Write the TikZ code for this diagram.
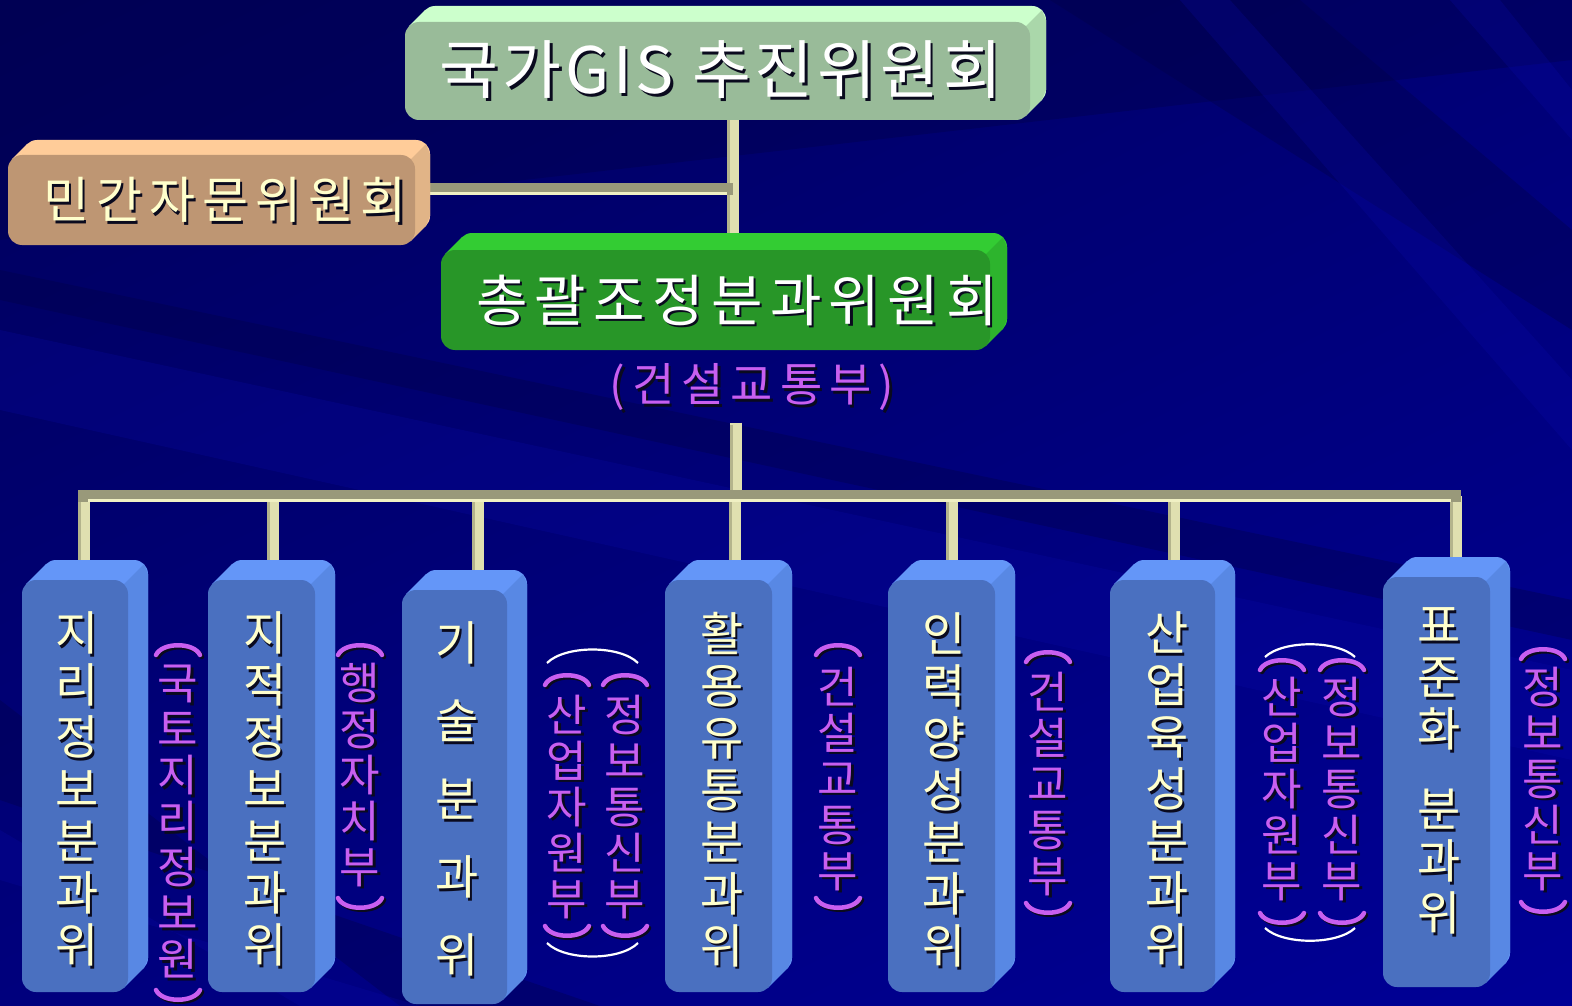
\documentclass[tikz,border=0pt]{standalone}
\usepackage{fontspec}
\setmainfont{Noto Sans CJK KR}
\usetikzlibrary{calc,shadings}
\pgfdeclarelayer{bgl}
\pgfdeclarelayer{conl}
\pgfdeclarelayer{extl}
\pgfsetlayers{bgl,conl,extl,main}
\definecolor{bgUL}{RGB}{0,0,92}
\definecolor{bgUR}{RGB}{0,0,118}
\definecolor{bgLL}{RGB}{0,0,125}
\definecolor{bgLR}{RGB}{0,0,150}
\definecolor{bandL}{RGB}{10,10,175}
\definecolor{bandD}{RGB}{0,0,70}
\definecolor{tFront}{RGB}{153,187,153}
\definecolor{tTop}{RGB}{204,255,204}
\definecolor{tSide}{RGB}{170,215,170}
\definecolor{oFront}{RGB}{190,150,115}
\definecolor{oTop}{RGB}{255,204,153}
\definecolor{oSide}{RGB}{225,180,135}
\definecolor{gFront}{RGB}{40,150,40}
\definecolor{gTop}{RGB}{51,204,51}
\definecolor{gSide}{RGB}{45,180,45}
\definecolor{bFront}{RGB}{74,112,192}
\definecolor{bTop}{RGB}{100,150,248}
\definecolor{bSide}{RGB}{88,136,228}
\definecolor{barDark}{RGB}{153,153,122}
\definecolor{barLight}{RGB}{240,240,195}
\definecolor{conLight}{RGB}{224,224,176}
\definecolor{conDark}{RGB}{180,180,140}
\definecolor{purp}{RGB}{200,95,240}
\definecolor{txtY}{RGB}{255,255,204}
\definecolor{shc}{RGB}{10,10,30}
\newcommand\threed[8]{%
 \pgfmathsetmacro\tdcx{(#2+#4)/2}%
 \pgfmathsetmacro\tdcy{(#3+#5)/2}%
 \pgfmathsetmacro\tdw{#4-#2}%
 \pgfmathsetmacro\tdh{#5-#3}%
 \pgfmathsetmacro\tdk{0.293*#7}%
 \node[fill=#8Front, rounded corners=#7pt, minimum width=\tdw pt, minimum height=\tdh pt, inner sep=0pt, outer sep=0pt] (#1) at (\tdcx,\tdcy) {};
 \begin{pgfonlayer}{extl}
 \fill[#8Top, rounded corners=#7pt] (#2+#6,#3-#6) rectangle (#4+#6,#5-#6);
 \fill[#8Top] (#2+\tdk,#3+\tdk) -- ++(#6,-#6) -- (#4-\tdk+#6,#3+\tdk-#6) -- (#4-\tdk,#3+\tdk) -- cycle;
 \fill[#8Side] (#4-\tdk,#3+\tdk) -- ++(#6,-#6) -- (#4+#6,#3-#6+#7) -- (#4+#6,#5-#6-#7) -- (#4-\tdk+#6,#5-\tdk-#6) -- (#4-\tdk,#5-\tdk) -- (#4,#5-#7) -- (#4,#3+#7) -- cycle;
 \end{pgfonlayer}%
}
\newcommand\shtxt[4]{%
 \node[#2, text=shc, xshift=2.5pt, yshift=-2.5pt] (#1s) at #3 {#4};
 \node[#2] (#1) at #3 {#4};}
\newcommand\vparen[3]{%
 \draw[parenline, shc, xshift=2pt, yshift=-2pt] (#1-22,#2+12) .. controls (#1-16,#2-1) and (#1+16,#2-1) .. (#1+22,#2+12);
 \draw[parenline, purp] (#1-22,#2+12) .. controls (#1-16,#2-1) and (#1+16,#2-1) .. (#1+22,#2+12);
 \draw[parenline, shc, xshift=2pt, yshift=-2pt] (#1-22,#3-12) .. controls (#1-16,#3+1) and (#1+16,#3+1) .. (#1+22,#3-12);
 \draw[parenline, purp] (#1-22,#3-12) .. controls (#1-16,#3+1) and (#1+16,#3+1) .. (#1+22,#3-12);}
\tikzset{
 parenline/.style={line width=4.5pt, line cap=round},
 vcol/.style={align=center, inner sep=0pt, outer sep=0pt, anchor=north, font=\fontsize{47}{52}\selectfont, text=txtY},
 pcol/.style={align=center, inner sep=0pt, outer sep=0pt, anchor=north, font=\fontsize{44}{46}\selectfont, text=purp},
 hbar/.style={line width=12pt, draw=barDark},
 hbarl/.style={line width=3pt, draw=barLight},
 vbar/.style={line width=12pt, draw=conLight},
 vbarl/.style={line width=3pt, draw=conDark},
 warc/.style={line width=2.2pt, draw=white},
 lband/.style={fill=bandL, opacity=0.22},
 dband/.style={fill=bandD, opacity=0.35},
}
\begin{document}
\begin{tikzpicture}[x=1pt,y=-1pt]
\useasboundingbox (0,0) rectangle (1572,1006);
\begin{pgfonlayer}{bgl}
\shade[upper left=bgUL, upper right=bgUR, lower left=bgLL, lower right=bgLR] (0,0) rectangle (1572,1006);
\fill[dband] (0,0) -- (1572,0) -- (1572,60) -- (0,240) -- cycle;
\fill[dband] (1050,0) -- (1300,0) -- (1572,230) -- (1572,330) -- cycle;
\fill[lband] (1180,0) -- (1230,0) -- (1572,380) -- (1572,450) -- cycle;
\fill[lband] (1450,0) -- (1500,0) -- (1572,90) -- (1572,140) -- cycle;
\fill[dband] (0,270) -- (0,300) -- (1572,640) -- (1572,600) -- cycle;
\fill[lband] (0,330) -- (0,410) -- (1572,760) -- (1572,670) -- cycle;
\fill[dband] (0,700) -- (0,800) -- (600,1006) -- (400,1006) -- cycle;
\fill[lband] (0,830) -- (0,880) -- (420,1006) -- (300,1006) -- cycle;
\end{pgfonlayer}

% boxes
\threed{top}{405}{22}{1030}{120}{16}{14}{t}
\threed{adv}{8}{155}{415}{245}{15}{14}{o}
\threed{gen}{441}{250}{990}{350}{17}{14}{g}
\threed{b1}{22}{580}{128}{992}{20}{14}{b}
\threed{b2}{208}{580}{315}{992}{20}{14}{b}
\threed{b3}{402}{590}{507}{1004}{20}{14}{b}
\threed{b4}{665}{580}{772}{992}{20}{14}{b}
\threed{b5}{888}{580}{995}{992}{20}{14}{b}
\threed{b6}{1110}{580}{1215}{992}{20}{14}{b}
\threed{b7}{1383}{577}{1490}{987}{20}{14}{b}

% texts
\shtxt{ttl}{inner sep=0pt, font=\fontsize{64}{64}\selectfont\addfontfeatures{LetterSpace=6}, text=white}{(721,70)}{국가GIS 추진위원회}
\shtxt{advt}{inner sep=0pt, font=\fontsize{50}{50}\selectfont\addfontfeatures{LetterSpace=14}, text=txtY}{(225,200)}{민간자문위원회}
\shtxt{gent}{inner sep=0pt, font=\fontsize{56}{56}\selectfont\addfontfeatures{LetterSpace=13}, text=white}{(737,300)}{총괄조정분과위원회}
\shtxt{gmin}{inner sep=0pt, font=\fontsize{46}{46}\selectfont\addfontfeatures{LetterSpace=15}, text=purp}{(752,387)}{(건설교통부)}

\shtxt{t1}{vcol}{(77,612)}{지\\리\\정\\보\\분\\과\\위}
\shtxt{t2}{vcol}{(265,612)}{지\\적\\정\\보\\분\\과\\위}
\shtxt{t3}{vcol}{(457,622)}{기\\[26pt]술\\[26pt]분\\[26pt]과\\[26pt]위}
\shtxt{t4}{vcol}{(722,612)}{활\\용\\유\\통\\분\\과\\위}
\shtxt{t5}{vcol}{(944,613)}{인\\력\\양\\성\\분\\과\\위}
\shtxt{t6}{vcol}{(1167,612)}{산\\업\\육\\성\\분\\과\\위}
\shtxt{t7}{vcol}{(1439,608)}{표\\준\\화\\[28pt]분\\과\\위}

\shtxt{l1}{pcol}{(178,665)}{국\\토\\지\\리\\정\\보\\원}
\shtxt{l2}{pcol}{(360,663)}{행\\정\\자\\치\\부}
\shtxt{l3a}{pcol}{(567,695)}{산\\업\\자\\원\\부}
\shtxt{l3b}{pcol}{(625,695)}{정\\보\\통\\신\\부}
\shtxt{l4}{pcol}{(838,667)}{건\\설\\교\\통\\부}
\shtxt{l5}{pcol}{(1048,672)}{건\\설\\교\\통\\부}
\shtxt{l6a}{pcol}{(1282,677)}{산\\업\\자\\원\\부}
\shtxt{l6b}{pcol}{(1342,677)}{정\\보\\통\\신\\부}
\shtxt{l7}{pcol}{(1543,667)}{정\\보\\통\\신\\부}

\vparen{178}{643}{1002}
\vparen{360}{643}{910}
\vparen{567}{673}{938}
\vparen{625}{673}{938}
\vparen{838}{643}{910}
\vparen{1048}{650}{915}
\vparen{1282}{658}{925}
\vparen{1342}{658}{925}
\vparen{1543}{647}{914}

\draw[warc] (547,663) .. controls (565,645) and (620,645) .. (638,663);
\draw[warc] (547,943) .. controls (565,961) and (620,961) .. (638,943);
\draw[warc] (1265,657) .. controls (1283,640) and (1337,640) .. (1355,657);
\draw[warc] (1265,928) .. controls (1283,945) and (1337,945) .. (1355,928);

% connectors
\coordinate (bus) at (736,496);
\coordinate (busL) at (78,496);
\coordinate (busR) at (1461,496);
\coordinate (j1) at (733,189);
\begin{pgfonlayer}{conl}
\draw[vbar] ([xshift=15pt]top.south) -- ([xshift=15pt]top.south |- gen.north);
\draw[vbarl] ([xshift=10.5pt]top.south) -- ([xshift=10.5pt]top.south |- gen.north);
\draw[hbar] (adv.east |- j1) -- (j1);
\draw[hbarl] ([yshift=-4.5pt]adv.east |- j1) -- ([yshift=-4.5pt,xshift=-6pt]j1);
\draw[vbar] ([xshift=-16pt,yshift=-12pt]gmin.south) -- ([xshift=-16pt]gmin.south |- bus);
\draw[vbarl] ([xshift=-20.5pt,yshift=-14pt]gmin.south) -- ([xshift=-20.5pt]gmin.south |- bus);
\foreach \b/\dx in {b1/9,b2/11,b3/23,b4/16,b5/10,b6/11,b7/19}{
 \draw[vbar] ([xshift=\dx pt]\b.north) -- ([xshift=\dx pt]\b.north |- bus);
 \draw[vbarl] ([xshift=\dx pt-4.5pt]\b.north) -- ([xshift=\dx pt-4.5pt]\b.north |- bus);
}
\draw[hbar] (busL) -- (busR);
\draw[hbarl] ([yshift=-4.5pt,xshift=10pt]busL) -- ([yshift=-4.5pt,xshift=-10pt]busR);
\end{pgfonlayer}
\end{tikzpicture}
\end{document}
